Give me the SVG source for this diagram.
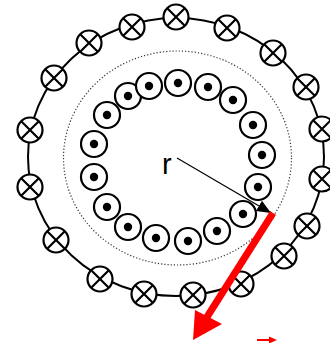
<svg xmlns="http://www.w3.org/2000/svg" width="330" height="343" viewBox="0 0 330 343">
<defs>
<style>
.ring{fill:#fff;stroke:#000;stroke-width:2.2}
.cross{stroke:#000;stroke-width:2.2;fill:none}
.dot{fill:#000;stroke:none}
</style>
<g id="xc">
<circle class="ring" r="12.5"/>
<path class="cross" d="M-8.8,-8.8L8.8,8.8M-8.8,8.8L8.8,-8.8"/>
</g>
<g id="dc">
<circle class="ring" r="13"/>
<circle class="dot" r="4.2"/>
</g>
<marker id="bh" markerWidth="14" markerHeight="12" refX="14" refY="6" orient="auto" markerUnits="userSpaceOnUse">
<path d="M0,0L14,6L0,12Z" fill="#000"/>
</marker>
</defs>
<rect width="330" height="343" fill="#fff"/>
<g id="outer-loop">
<ellipse cx="176" cy="157" rx="148" ry="139" fill="none" stroke="#000" stroke-width="2"/>
</g>
<g id="dotted-loop">
<ellipse cx="177.5" cy="158" rx="114" ry="107" fill="none" stroke="#333" stroke-width="1.2" stroke-dasharray="1.2,2"/>
</g>
<g id="outer-wires">
<use href="#xc" x="176" y="17"/>
<use href="#xc" x="227" y="28"/>
<use href="#xc" x="273" y="53"/>
<use href="#xc" x="306" y="87"/>
<use href="#xc" x="322" y="129"/>
<use href="#xc" x="322" y="179"/>
<use href="#xc" x="307" y="226"/>
<use href="#xc" x="284" y="256"/>
<use href="#xc" x="241" y="284"/>
<use href="#xc" x="193" y="295"/>
<use href="#xc" x="144" y="294"/>
<use href="#xc" x="100" y="279"/>
<use href="#xc" x="56" y="240"/>
<use href="#xc" x="30" y="187"/>
<use href="#xc" x="30" y="130"/>
<use href="#xc" x="54" y="78"/>
<use href="#xc" x="89" y="43"/>
<use href="#xc" x="132" y="27"/>
</g>
<g id="inner-wires">
<use href="#dc" x="107" y="115"/>
<use href="#dc" x="128" y="96"/>
<use href="#dc" x="149" y="86"/>
<use href="#dc" x="178" y="83"/>
<use href="#dc" x="208" y="87"/>
<use href="#dc" x="233" y="100"/>
<use href="#dc" x="253" y="125"/>
<use href="#dc" x="262" y="155"/>
<use href="#dc" x="258" y="187"/>
<use href="#dc" x="94" y="144"/>
<use href="#dc" x="94" y="177"/>
<use href="#dc" x="107" y="207"/>
<use href="#dc" x="128" y="227"/>
<use href="#dc" x="156" y="238"/>
<use href="#dc" x="188" y="241"/>
<use href="#dc" x="217" y="231"/>
<use href="#dc" x="243" y="214"/>
</g>
<g id="label-r">
<text x="162" y="174" font-family="Liberation Sans, Arial, sans-serif" font-size="29" fill="#000">r</text>
</g>
<g id="connectors">
<line x1="177" y1="158" x2="271" y2="213" stroke="#000" stroke-width="1.2" marker-end="url(#bh)"/>
<line x1="273" y1="213" x2="207" y2="317" stroke="#f00" stroke-width="7"/>
<path d="M193,340L195,310L222,324Z" fill="#f00"/>
<line x1="257" y1="340" x2="271" y2="340" stroke="#f00" stroke-width="2"/>
<path d="M269,336.5L277,340L269,343.5Z" fill="#f00"/>
</g>
</svg>
